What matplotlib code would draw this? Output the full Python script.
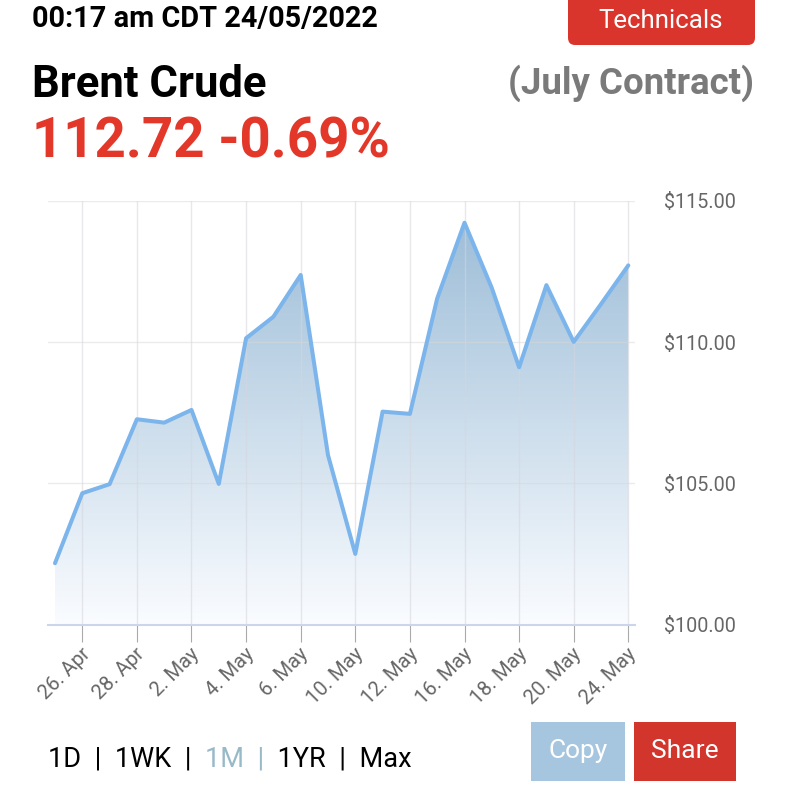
import matplotlib

matplotlib.use("Agg")
import matplotlib.pyplot as plt
import numpy as np
from matplotlib.patches import FancyBboxPatch, Polygon, Rectangle
from matplotlib.transforms import ScaledTranslation

plt.rcParams["font.family"] = ["Roboto", "DejaVu Sans"]

# data (daily closes, July Brent contract)
dates = ["25. Apr", "26. Apr", "27. Apr", "28. Apr", "29. Apr", "2. May", "3. May",
         "4. May", "5. May", "6. May", "9. May", "10. May", "11. May", "12. May",
         "13. May", "16. May", "17. May", "18. May", "19. May", "20. May",
         "23. May", "24. May"]
prices = [102.17, 104.65, 104.97, 107.27, 107.15, 107.60, 104.98, 110.14, 110.90,
          112.38, 106.00, 102.50, 107.54, 107.46, 111.55, 114.23, 111.92, 109.11,
          112.02, 110.01, 111.35, 112.72]
shown_ticks = ["26. Apr", "28. Apr", "2. May", "4. May", "6. May", "10. May",
               "12. May", "16. May", "18. May", "20. May", "24. May"]
y_ticks = [100, 105, 110, 115]

title_time = "00:17 am CDT 24/05/2022"
title_name = "Brent Crude"
title_quote = "112.72 -0.69%"
contract = "(July Contract)"
ranges = ["1D  |  1WK  |  ", "1M  |", "  1YR  |  Max"]

W, H = 785, 800
RED = "#e3372a"
LINE = "#7cb5ec"


def px(x, y):
    return x / W, 1 - y / H


fig = plt.figure(figsize=(W / 100, H / 100), dpi=100)
ax = fig.add_axes([47.7 / W, (H - 624.5) / H, (635 - 47.7) / W, (624.5 - 201) / H])

x = np.arange(len(prices))

# gradient area under the line
top_c = np.array([158, 190, 216, 255]) / 255
bot_c = np.array([250, 252, 255, 255]) / 255
t = np.linspace(0, 1, 300).reshape(-1, 1, 1)
grad = top_c * (1 - t) + bot_c * t
im = ax.imshow(grad, extent=[x[0], x[-1], 100, max(prices)], aspect="auto",
               origin="upper", zorder=1, interpolation="bilinear")
verts = list(zip(x, prices)) + [(x[-1], 100), (x[0], 100)]
area = Polygon(verts, closed=True, fc="none", ec="none")
ax.add_patch(area)
im.set_clip_path(area)
ax.set_xlim(-0.267, len(prices) - 1 + 0.245)
ax.set_ylim(100, 115)

ax.plot(x, prices, color=LINE, lw=2.9, solid_joinstyle="round",
        solid_capstyle="round", zorder=4)

# grid
for v in y_ticks[1:]:
    ax.axhline(v, color="#d8d8d8", lw=1, alpha=0.5, zorder=3)
tick_pos = [dates.index(d) for d in shown_ticks]
for p in tick_pos:
    ax.axvline(p, color="#d6d6de", lw=1, alpha=0.55, zorder=3)

for s in ["top", "left", "right"]:
    ax.spines[s].set_visible(False)
ax.spines["bottom"].set_color("#ccd6eb")
ax.spines["bottom"].set_linewidth(1.5)
ax.spines["bottom"].set_zorder(5)

ax.set_xticks(tick_pos)
ax.set_xticklabels(shown_ticks, rotation=45, ha="right", va="center",
                   rotation_mode="anchor")
ax.tick_params(axis="x", length=12, width=0.8, color="#aaaaaa", pad=7,
               labelsize=14.5, labelcolor="#666666")
offset = ScaledTranslation(5 / 100, 0, fig.dpi_scale_trans)
for lab in ax.get_xticklabels():
    lab.set_transform(lab.get_transform() + offset)

ax.yaxis.tick_right()
ax.set_yticks(y_ticks)
ax.set_yticklabels([f"${v:.2f}" for v in y_ticks])
ax.tick_params(axis="y", length=0, pad=21, labelsize=14.2, labelcolor="#666666")

# header
fig.text(*px(32, 27), title_time, fontsize=20.8, fontweight="bold", color="black",
         va="baseline")
fig.text(*px(32, 97), title_name, fontsize=31.4, fontweight="bold", color="black",
         va="baseline")
fig.text(*px(32, 157), title_quote, fontsize=39.3, fontweight="bold", color=RED,
         va="baseline")
fig.text(*px(754, 94), contract, fontsize=26.4, fontweight="bold", color="#7a7a7a",
         va="baseline", ha="right")

btn = FancyBboxPatch(px(568, 45), 187 / W, 60 / H,
                     boxstyle="round,pad=0,rounding_size=0.009",
                     transform=fig.transFigure, fc="#d9352c", ec="none")
fig.add_artist(btn)
fig.text(*px(661, 21), "Technicals", fontsize=18.6, color="white",
         ha="center", va="center")

# footer buttons
for (x0, x1, label, col) in [(531, 625, "Copy", "#a6c6df"), (634, 736, "Share", "#d2352c")]:
    fig.add_artist(Rectangle(px(x0, 781), (x1 - x0) / W, 59 / H,
                             transform=fig.transFigure, fc=col, ec="none"))
    fig.text(*px((x0 + x1) / 2, 751), label, fontsize=19, color="white",
             ha="center", va="center")

# range selector
renderer = fig.canvas.get_renderer()
cx = 48
for txt, col in zip(ranges, ["black", "#98b9c8", "black"]):
    tt = fig.text(*px(cx, 766), txt, fontsize=19.5, color=col, va="baseline")
    bb = tt.get_window_extent(renderer)
    cx += bb.width

fig.savefig("out.png", dpi=100)
